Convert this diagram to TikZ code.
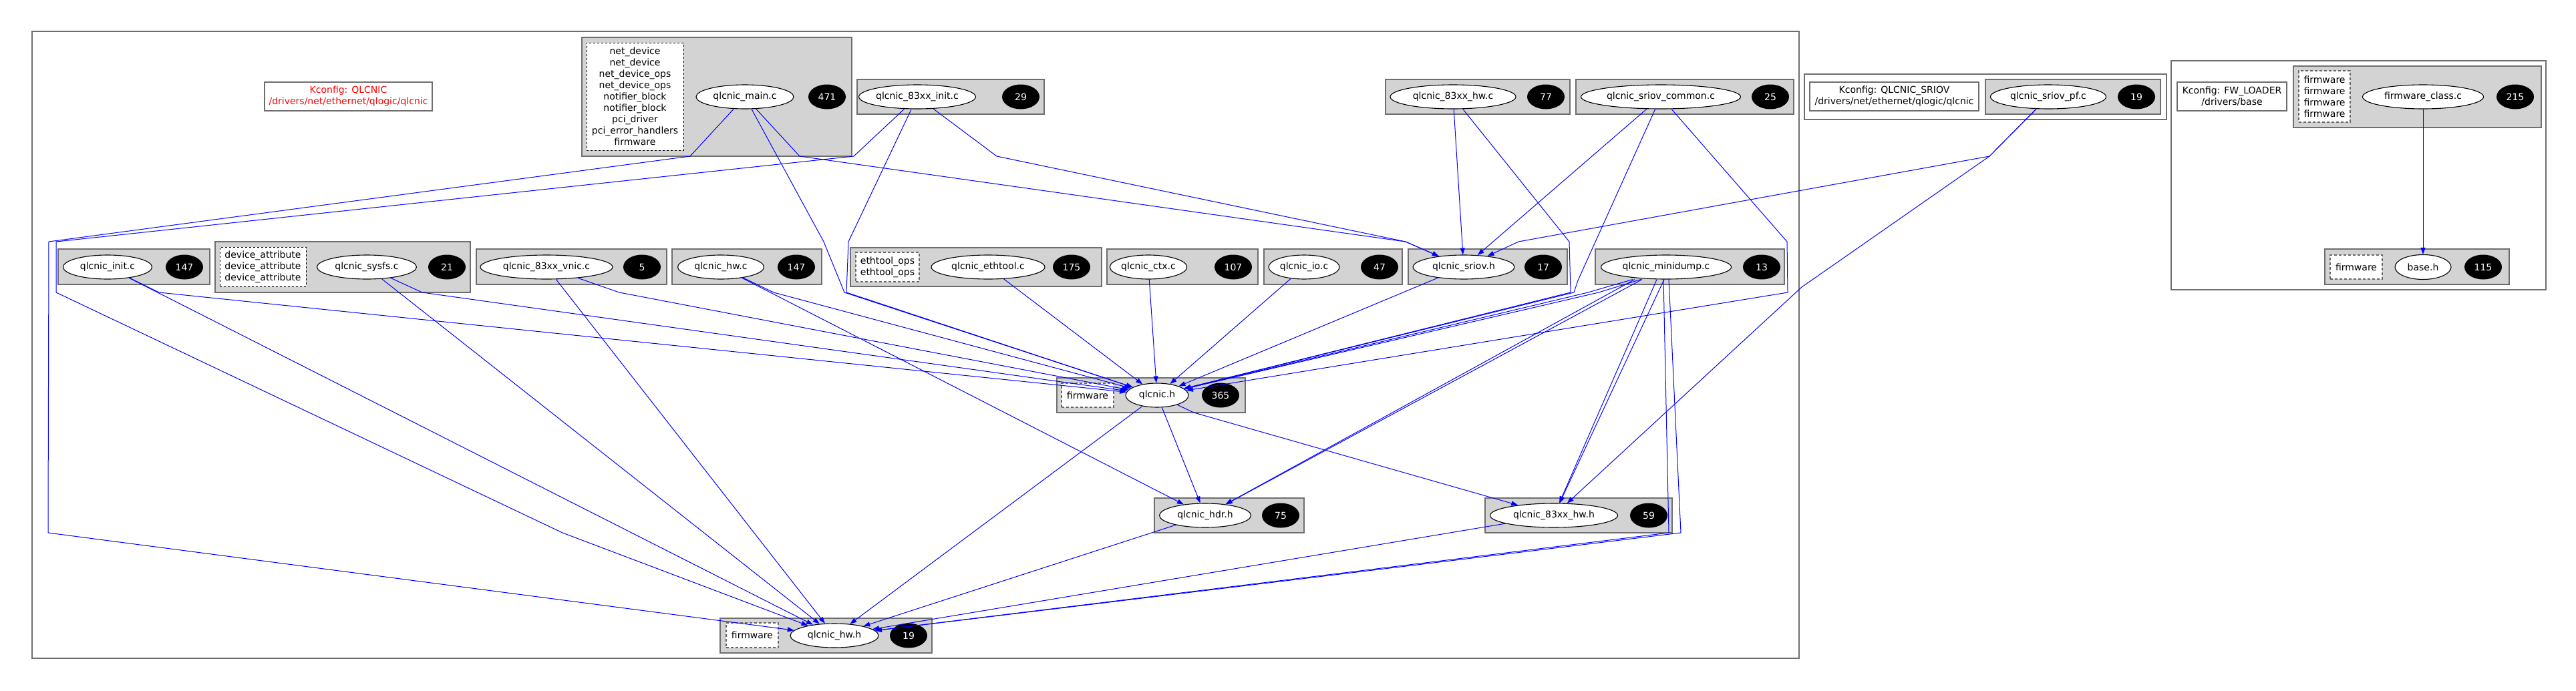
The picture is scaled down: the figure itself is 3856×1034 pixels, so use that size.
\documentclass[tikz,border=0pt]{standalone}
\usepackage{fontspec}
\setmainfont{DejaVu Sans}
\usepackage{tikz}
\usetikzlibrary{shapes.geometric,arrows.meta}
\definecolor{clfill}{RGB}{211,211,211}
\definecolor{clline}{RGB}{110,110,110}

\begin{document}
\begin{tikzpicture}[x=1pt,y=-1pt,
	font=\fontsize{14}{17}\selectfont,
	grp/.style={draw=clline,fill=clfill,line width=1.5pt},
	kbox/.style={draw=clline,fill=white,line width=1.5pt},
	file/.style={ellipse,draw,line width=1.1pt,fill=white,minimum height=36pt,inner sep=0pt},
	cnt/.style={ellipse,fill=black,text=white,minimum width=56pt,minimum height=37pt,inner sep=0pt},
	syms/.style={draw=black,line width=0.9pt,dash pattern=on 3pt off 3pt,fill=white,inner sep=0pt,align=center},
	symg/.style={draw=black!60,line width=1.6pt,dash pattern=on 4pt off 3pt,fill=white,inner sep=0pt,align=center},
	dep/.style={blue,line width=1pt,-{Triangle[length=10pt,width=7pt]}}]
		\useasboundingbox (0,0) rectangle (3856,1034);
		\draw[kbox] (48,47) rectangle (2693,986);
		\draw[kbox] (2701,111) rectangle (3243,179);
		\draw[kbox] (3250,91) rectangle (3811,434);
		\node[kbox,minimum width=251pt,minimum height=43pt,inner sep=0pt,text=red,align=center] (kqlcnic) at (521.5,144.5) {Kconfig: QLCNIC\\/drivers/net/ethernet/qlogic/qlcnic};
		\node[kbox,minimum width=253pt,minimum height=43pt,inner sep=0pt,align=center] (ksriov) at (2835.5,144.5) {Kconfig: QLCNIC\_SRIOV\\/drivers/net/ethernet/qlogic/qlcnic};
		\node[kbox,minimum width=164pt,minimum height=43pt,inner sep=0pt,align=center] (kfw) at (3341,144.5) {Kconfig: FW\_LOADER\\/drivers/base};

		\draw[grp] (871,56) rectangle (1275,234);
		\draw[grp] (1283,119) rectangle (1563,171);
		\draw[grp] (2074,119) rectangle (2350,171);
		\draw[grp] (2359,119) rectangle (2685,171);
		\draw[grp] (2972,119) rectangle (3234,171);
		\draw[grp] (3433,99) rectangle (3804,191);
		\draw[grp] (3480,373) rectangle (3756,426);
		\draw[grp] (87,373) rectangle (314,426);
		\draw[grp] (322,362) rectangle (704,438);
		\draw[grp] (713,373) rectangle (998,426);
		\draw[grp] (1006,373) rectangle (1230,426);
		\draw[grp] (1273,371) rectangle (1649,429);
		\draw[grp] (1657,373) rectangle (1883,426);
		\draw[grp] (1892,373) rectangle (2099,426);
		\draw[grp] (2108,373) rectangle (2346,426);
		\draw[grp] (2388,373) rectangle (2671,426);
		\draw[grp] (1582,566) rectangle (1864,618);
		\draw[grp] (1728,746) rectangle (1952,798);
		\draw[grp] (2223,746) rectangle (2503,798);
		\draw[grp] (1078,926) rectangle (1395,978);

		\node[syms,minimum width=145pt,minimum height=161pt] (mainlist) at (950.5,144.5) {net\_device\\net\_device\\net\_device\_ops\\net\_device\_ops\\notifier\_block\\notifier\_block\\pci\_driver\\pci\_error\_handlers\\firmware};
		\node[file,minimum width=146pt] (mainc) at (1115,145) {qlcnic\_main.c};
		\node[cnt] (mainn) at (1238,145) {471};
		\node[file,minimum width=165pt] (init83) at (1373,145) {qlcnic\_83xx\_init.c};
		\node[cnt] (init83n) at (1528,145) {29};
		\node[file,minimum width=188pt] (hw83c) at (2175,145) {qlcnic\_83xx\_hw.c};
		\node[cnt] (hw83cn) at (2314,145) {77};
		\node[file,minimum width=239pt] (sriovcom) at (2486,145) {qlcnic\_sriov\_common.c};
		\node[cnt] (sriovcomn) at (2650,145) {25};
		\node[file,minimum width=173pt] (sriovpf) at (3066,145) {qlcnic\_sriov\_pf.c};
		\node[cnt] (sriovpfn) at (3198,145) {19};
		\node[symg,minimum width=77pt,minimum height=77pt] (fwlist) at (3479.5,144.5) {firmware\\firmware\\firmware\\firmware};
		\node[file,minimum width=181pt] (fwclass) at (3627,145) {firmware\_class.c};
		\node[cnt] (fwclassn) at (3765,145) {215};

		\node[file,minimum width=133pt] (initc) at (161,400) {qlcnic\_init.c};
		\node[cnt] (initcn) at (276,400) {147};
		\node[syms,minimum width=129pt,minimum height=59pt] (sysfslist) at (393.5,399.5) {device\_attribute\\device\_attribute\\device\_attribute};
		\node[file,minimum width=149pt] (sysfs) at (549,400) {qlcnic\_sysfs.c};
		\node[cnt] (sysfsn) at (669,400) {21};
		\node[file,minimum width=198pt] (vnic) at (818,400) {qlcnic\_83xx\_vnic.c};
		\node[cnt] (vnicn) at (961,400) {5};
		\node[file,minimum width=129pt] (hwc) at (1079,400) {qlcnic\_hw.c};
		\node[cnt] (hwcn) at (1192,400) {147};
		\node[symg,minimum width=95pt,minimum height=44pt] (ethlist) at (1328.5,400) {ethtool\_ops\\ethtool\_ops};
		\node[file,minimum width=170pt] (ethtool) at (1479,400) {qlcnic\_ethtool.c};
		\node[cnt] (ethtooln) at (1604,400) {175};
		\node[file,minimum width=109pt] (ctx) at (1719,400) {qlcnic\_ctx.c};
		\node[cnt] (ctxn) at (1846,400) {107};
		\node[file,minimum width=106pt] (io) at (1952,400) {qlcnic\_io.c};
		\node[cnt] (ion) at (2065,400) {47};
		\node[file,minimum width=152pt] (sriovh) at (2191,400) {qlcnic\_sriov.h};
		\node[cnt] (sriovhn) at (2310,400) {17};
		\node[file,minimum width=195pt] (minidump) at (2494,400) {qlcnic\_minidump.c};
		\node[cnt] (minidumpn) at (2637,400) {13};
		\node[symg,minimum width=78pt,minimum height=36pt] (baselist) at (3527,400) {firmware};
		\node[file,minimum width=84pt,minimum height=37pt] (baseh) at (3627,400) {base.h};
		\node[cnt] (basehn) at (3717,400) {115};

		\node[symg,minimum width=78pt,minimum height=36pt] (qlist) at (1628,592) {firmware};
		\node[file,minimum width=94pt] (qh) at (1732,592) {qlcnic.h};
		\node[cnt] (qhn) at (1827,592) {365};
		\node[file,minimum width=137pt] (hdr) at (1804,772) {qlcnic\_hdr.h};
		\node[cnt] (hdrn) at (1917,772) {75};
		\node[file,minimum width=191pt] (hw83h) at (2326,772) {qlcnic\_83xx\_hw.h};
		\node[cnt] (hw83hn) at (2468,772) {59};
		\node[symg,minimum width=78pt,minimum height=37pt] (hwlist) at (1126,951.5) {firmware};
		\node[file,minimum width=132pt] (hwh) at (1249,952) {qlcnic\_hw.h};
		\node[cnt] (hwhn) at (1360,952) {19};

		\draw[dep] (mainc) -- (1033,234) -- (73,362) -- (72,798) -- (hwh);
		\draw[dep] (mainc) -- (1233,362) -- (1264,438) -- (qh);
		\draw[dep] (mainc) -- (1197,234) -- (2104,362) -- (sriovh);
		\draw[dep] (init83) -- (1278,234) -- (84,362) -- (84,438) -- (842,798) -- (hwh);
		\draw[dep] (init83) -- (1270,362) -- (1267,438) -- (qh);
		\draw[dep] (init83) -- (1492,234) -- (2104,362) -- (sriovh);
		\draw[dep] (hw83c) -- (sriovh);
		\draw[dep] (hw83c) -- (2349,362) -- (2351,438) -- (qh);
		\draw[dep] (sriovcom) -- (sriovh);
		\draw[dep] (sriovcom) -- (2362,420) -- (2356,438) -- (qh);
		\draw[dep] (sriovcom) -- (2675,362) -- (2676,438) -- (qh);
		\draw[dep] (sriovpf) -- (2978,234) -- (2273,362) -- (sriovh);
		\draw[dep] (sriovpf) -- (2978,234) -- (2697,430) -- (hw83h);
		\draw[dep] (fwclass) -- (baseh);
		\draw[dep] (initc) -- (238,438) -- (qh);
		\draw[dep] (initc) -- (hwh);
		\draw[dep] (sysfs) -- (632,438) -- (qh);
		\draw[dep] (sysfs) -- (hwh);
		\draw[dep] (vnic) -- (927,438) -- (qh);
		\draw[dep] (vnic) -- (hwh);
		\draw[dep] (hwc) -- (1158,438) -- (qh);
		\draw[dep] (hwc) -- (hdr);
		\draw[dep] (ethtool) -- (qh);
		\draw[dep] (ctx) -- (qh);
		\draw[dep] (io) -- (qh);
		\draw[dep] (sriovh) -- (qh);
		\draw[dep] ([xshift=-50pt]minidump.south) -- (2377,438) -- (qh);
		\draw[dep] ([xshift=-38pt]minidump.south) -- (2393,438) -- (qh);
		\draw[dep] ([xshift=-47pt]minidump.south) -- (hdr);
		\draw[dep] ([xshift=-36pt]minidump.south) -- (hdr);
		\draw[dep] ([xshift=-14pt]minidump.south) -- (hw83h);
		\draw[dep] ([xshift=-3pt]minidump.south) -- (hw83h);
		\draw[dep] ([xshift=-4pt]minidump.south) -- (2498,798) -- (hwh);
		\draw[dep] ([xshift=4pt]minidump.south) -- (2516,798) -- (hwh);
		\draw[dep] (qh) -- (hdr);
		\draw[dep] (qh) -- (1787,618) -- (hw83h);
		\draw[dep] (qh) -- (hwh);
		\draw[dep] (hdr) -- (hwh);
		\draw[dep] (hw83h) -- (hwh);
\end{tikzpicture}
\end{document}
